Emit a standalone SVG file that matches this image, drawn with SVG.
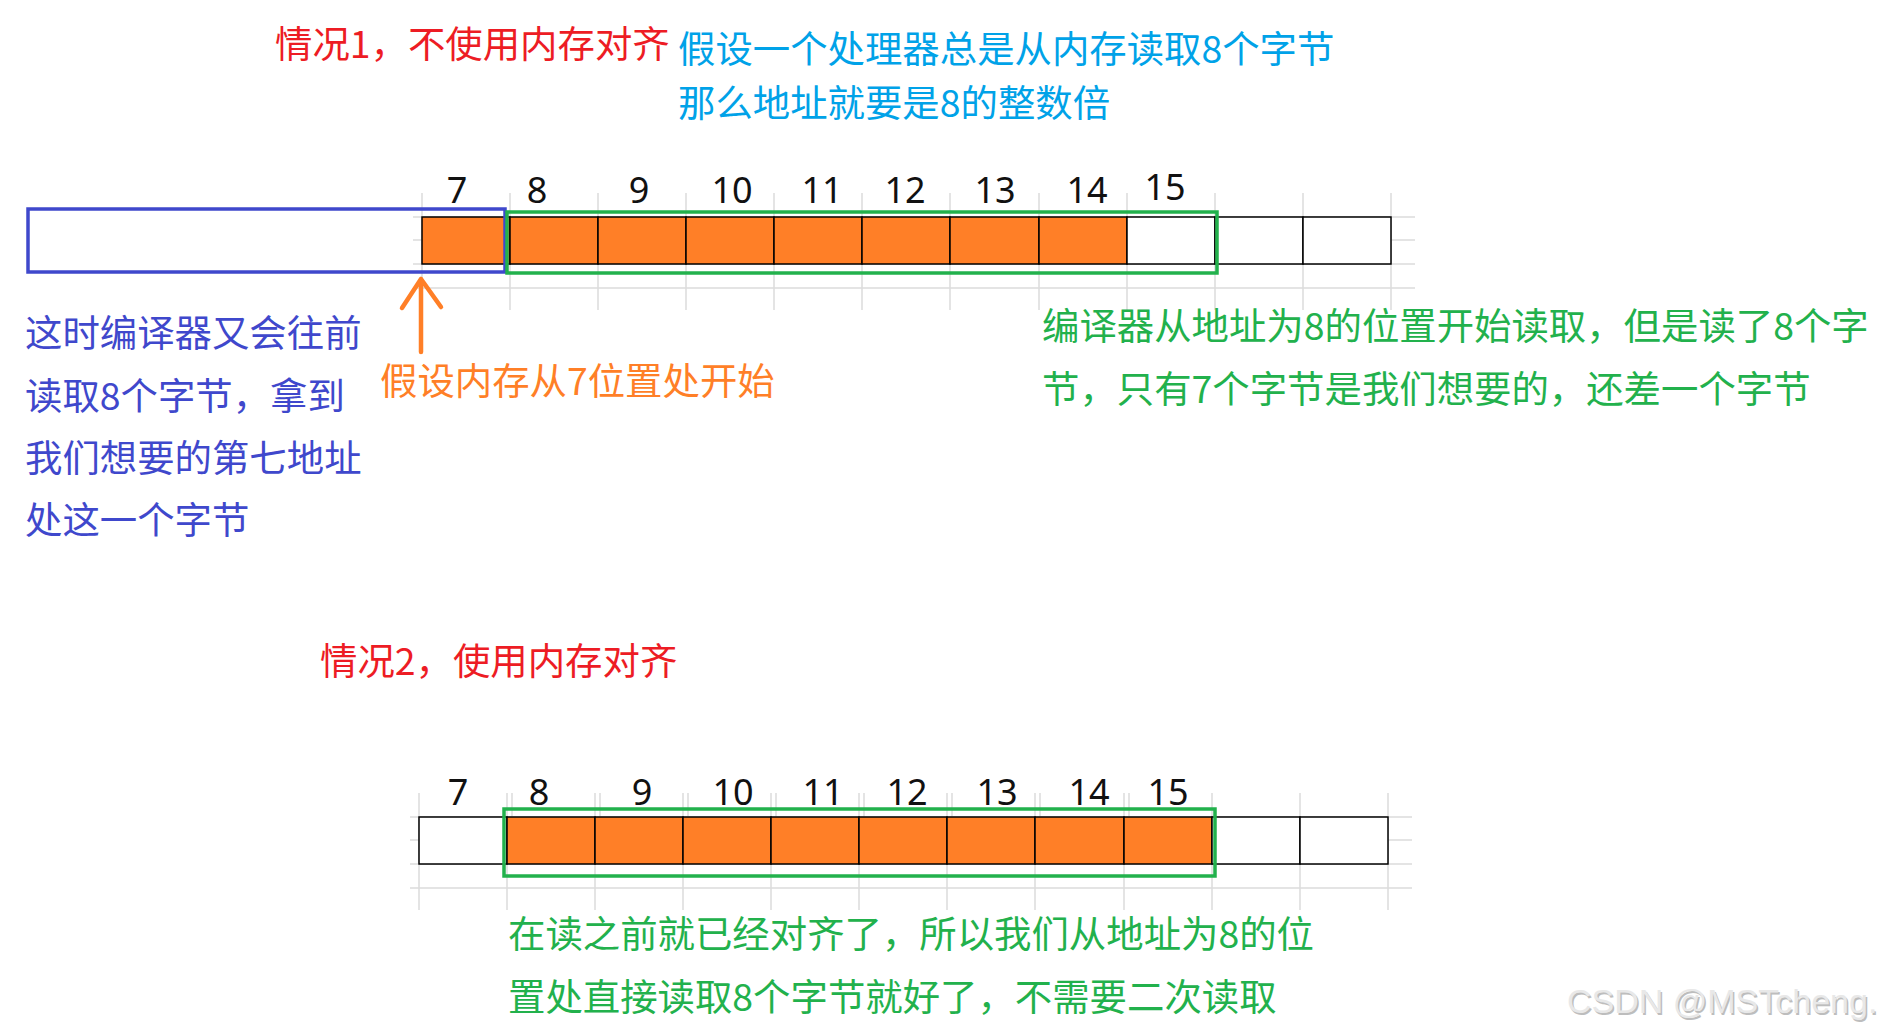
<svg xmlns="http://www.w3.org/2000/svg" width="1885" height="1033" viewBox="0 0 1885 1033">
<style>
.t{font-family:"Noto Sans CJK SC","Noto Sans",sans-serif;font-size:37.4px}
.n{font-family:"Noto Sans","Noto Sans CJK SC",sans-serif;font-size:36px;fill:#111;text-anchor:middle}
.grid{stroke:#dcdcdc;stroke-width:1.5;fill:none}
.cell{stroke:#000;stroke-width:1.5}
.o{fill:#FF7F27}
.w{fill:#fff}
.red{fill:#ED1C24}
.cyan{fill:#00A2E8}
.ind{fill:#3F48CC}
.org{fill:#FF7F27}
.grn{fill:#22B14C}
.gbox{fill:none;stroke:#22B14C;stroke-width:3.5}
.bbox{fill:none;stroke:#3F48CC;stroke-width:3.5}
</style>
<rect width="1885" height="1033" fill="#fff"/>

<g id="grid1" class="grid">
<path d="M413 217H1415M413 240H1415M413 264H1415M413 288H1415"/>
<path d="M422 193V310M510 193V310M598 193V310M686 193V310M774 193V310M862 193V310M950 193V310M1039 193V310M1127 193V310M1215 193V310M1303 193V310M1391 193V310"/>
</g>
<g id="grid2" class="grid">
<path d="M410 817H1412M410 840H1412M410 864H1412M410 888H1412"/>
<path d="M419 793V910M507 793V910M595 793V910M683 793V910M771 793V910M859 793V910M947 793V910M1035 793V910M1124 793V910M1212 793V910M1300 793V910M1388 793V910"/>
<path d="M512 793V817M600 793V817M688 793V817M776 793V817M864 793V817M952 793V817M1040 793V817M1129 793V817"/>
</g>

<g id="row1">
<rect class="cell o" x="422" y="217" width="88" height="47"/>
<rect class="cell o" x="510" y="217" width="88" height="47"/>
<rect class="cell o" x="598" y="217" width="88" height="47"/>
<rect class="cell o" x="686" y="217" width="88" height="47"/>
<rect class="cell o" x="774" y="217" width="88" height="47"/>
<rect class="cell o" x="862" y="217" width="88" height="47"/>
<rect class="cell o" x="950" y="217" width="89" height="47"/>
<rect class="cell o" x="1039" y="217" width="88" height="47"/>
<rect class="cell w" x="1127" y="217" width="88" height="47"/>
<rect class="cell w" x="1215" y="217" width="88" height="47"/>
<rect class="cell w" x="1303" y="217" width="88" height="47"/>
</g>
<g id="labels1">
<text class="n" x="457" y="203">7</text>
<text class="n" x="537" y="203">8</text>
<text class="n" x="639" y="203">9</text>
<text class="n" x="732" y="203">10</text>
<text class="n" x="822" y="203">11</text>
<text class="n" x="905" y="203">12</text>
<text class="n" x="995" y="203">13</text>
<text class="n" x="1087" y="203">14</text>
<text class="n" x="1165" y="200">15</text>
</g>
<g id="bluebox1"><rect class="bbox" x="28" y="209" width="477" height="63"/></g>
<g id="greenbox1"><rect class="gbox" x="507" y="212" width="710" height="61"/></g>

<g id="row2">
<rect class="cell w" x="419" y="817" width="88" height="47"/>
<rect class="cell o" x="507" y="817" width="88" height="47"/>
<rect class="cell o" x="595" y="817" width="88" height="47"/>
<rect class="cell o" x="683" y="817" width="88" height="47"/>
<rect class="cell o" x="771" y="817" width="88" height="47"/>
<rect class="cell o" x="859" y="817" width="88" height="47"/>
<rect class="cell o" x="947" y="817" width="88" height="47"/>
<rect class="cell o" x="1035" y="817" width="89" height="47"/>
<rect class="cell o" x="1124" y="817" width="88" height="47"/>
<rect class="cell w" x="1212" y="817" width="88" height="47"/>
<rect class="cell w" x="1300" y="817" width="88" height="47"/>
</g>
<g id="labels2">
<text class="n" x="458" y="805">7</text>
<text class="n" x="539" y="805">8</text>
<text class="n" x="642" y="805">9</text>
<text class="n" x="733" y="805">10</text>
<text class="n" x="823" y="805">11</text>
<text class="n" x="907" y="805">12</text>
<text class="n" x="997" y="805">13</text>
<text class="n" x="1089" y="805">14</text>
<text class="n" x="1168" y="805">15</text>
</g>
<g id="greenbox2"><rect class="gbox" x="504" y="809" width="711" height="67"/></g>

<g id="connectors">
<path d="M421 352V279M402 308L421 279L441 307" fill="none" stroke="#FF7F27" stroke-width="4.5" stroke-linecap="round" stroke-linejoin="round"/>
</g>

<g id="title1"><text class="t red" x="275" y="58">情况1，不使用内存对齐</text></g>
<g id="note-processor">
<text class="t cyan" x="678" y="63">假设一个处理器总是从内存读取8个字节</text>
<text class="t cyan" x="678" y="117">那么地址就要是8的整数倍</text>
</g>
<g id="note-compiler-left">
<text class="t ind" x="25" y="347">这时编译器又会往前</text>
<text class="t ind" x="25" y="410">读取8个字节，拿到</text>
<text class="t ind" x="25" y="472">我们想要的第七地址</text>
<text class="t ind" x="25" y="534">处这一个字节</text>
</g>
<g id="note-start7"><text class="t org" x="380" y="395">假设内存从7位置处开始</text></g>
<g id="note-compiler-right">
<text class="t grn" x="1042" y="340">编译器从地址为8的位置开始读取，但是读了8个字</text>
<text class="t grn" x="1042" y="403">节，只有7个字节是我们想要的，还差一个字节</text>
</g>
<g id="title2"><text class="t red" x="320" y="675">情况2，使用内存对齐</text></g>
<g id="note-aligned">
<text class="t grn" x="508" y="948">在读之前就已经对齐了，所以我们从地址为8的位</text>
<text class="t grn" x="508" y="1011">置处直接读取8个字节就好了，不需要二次读取</text>
</g>
<g id="watermark" font-family="'Liberation Sans',Arial,sans-serif" font-size="34">
<text x="1568.5" y="1014.5" fill="#bdbdbd">CSDN @MSTcheng.</text>
<text x="1567" y="1013" fill="#e8e8e8">CSDN @MSTcheng.</text>
</g>
</svg>
